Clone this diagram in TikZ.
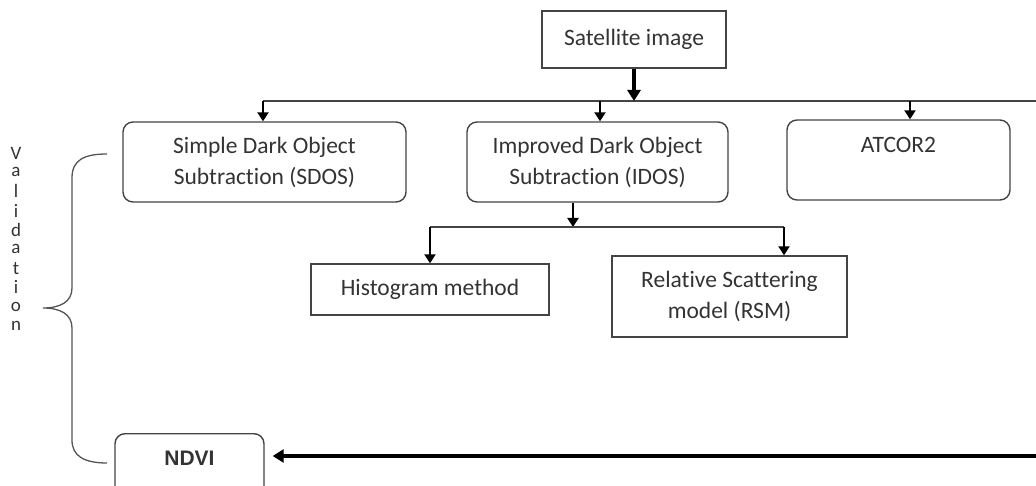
\documentclass[tikz,border=0pt]{standalone}
\usepackage{fontspec}
\setmainfont{Carlito}[Ligatures=NoCommon]
\newfontfamily\ndvifont{Liberation Sans}
\usetikzlibrary{arrows.meta}
\definecolor{ink}{HTML}{333333}
\definecolor{edge}{HTML}{444444}
\definecolor{bracegray}{HTML}{555555}

\begin{document}
\begin{tikzpicture}[x=1pt,y=-1pt,
  boxtext/.style={font=\fontsize{23.5}{31}\selectfont, text=ink, align=center, inner sep=0pt},
  sqbox/.style={boxtext, draw=edge, line width=1.4pt},
  rbox/.style={sqbox, rounded corners=10pt},
  bus/.style={draw=edge, line width=1.5pt},
  drop/.style={line width=2.4pt, black, -{Triangle[width=11pt,length=9pt]}},
  bigarrow/.style={line width=3.4pt, black, -{Triangle[width=13pt,length=11pt]}},
  vtext/.style={font=\fontsize{19}{19}\selectfont, text=ink, inner sep=0pt},
  bracket/.style={draw=bracegray, line width=1.3pt},
]
\useasboundingbox (0,0) rectangle (1036,486);
\clip (0,0) rectangle (1036,486);

% boxes
\node[sqbox, minimum width=184pt, minimum height=57pt] (sat) at (634,39.5) {Satellite image};
\node[rbox, minimum width=283pt, minimum height=80pt] (sdos) at (264.5,162) {Simple Dark Object\\Subtraction (SDOS)};
\node[rbox, minimum width=261pt, minimum height=80pt] (idos) at (597.5,162) {Improved Dark Object\\Subtraction (IDOS)};
\node[rbox, minimum width=223pt, minimum height=80pt] (atcor) at (898.5,160) {ATCOR2\\\mbox{}};
\node[sqbox, minimum width=238pt, minimum height=51pt] (hist) at (430,289.5) {Histogram method};
\node[sqbox, minimum width=235pt, minimum height=81pt] (rsm) at (729.5,296.5) {Relative Scattering\\model (RSM)};
\node[rbox, anchor=north, minimum width=149pt, text height=31.5pt, text depth=60pt,
      font=\ndvifont\bfseries\fontsize{21}{22}\selectfont] (ndvi) at (189.5,433) {NDVI};

% distribution bus below the satellite image
\coordinate (busL) at (263,101);
\coordinate (busR) at (1036,101);
\coordinate (dropI) at (600,101);
\coordinate (dropA) at (910,101);
\draw[bus] (busL) -- (busR);
\draw[bigarrow] (sat.south) -- (sat.south |- busL);
\draw[drop] (busL) -- (busL |- sdos.north);
\draw[drop] (dropI) -- (dropI |- idos.north);
\draw[drop] (dropA) -- (dropA |- atcor.north);

% split below IDOS
\coordinate (splitIn) at (573,227);
\coordinate (splitL) at (430,227);
\coordinate (splitR) at (784,227);
\draw[drop] (splitIn |- idos.south) -- (splitIn);
\draw[bus] (splitL) -- (splitR);
\draw[drop] (splitL) -- (hist.north);
\draw[drop] (splitR) -- (splitR |- rsm.north);

% return arrow into NDVI
\coordinate (back) at (1036,456);
\draw[bigarrow, shorten >=8pt] (back) -- (back -| ndvi.east);

% validation brace
\draw[bracket] (107,154) .. controls (84,154) and (72,160) .. (72,178)
  -- (72,288) .. controls (72,302) and (60,308) .. (43,308)
  .. controls (60,308) and (72,314) .. (72,328)
  -- (72,440) .. controls (72,456) and (84,463) .. (107,463);

% vertical label
\foreach \ch [count=\i] in {V,a,l,i,d,a,t,i,o,n}
  \node[vtext] (v\i) at (16,{153+19.2*(\i-1)}) {\ch};
\end{tikzpicture}
\end{document}
